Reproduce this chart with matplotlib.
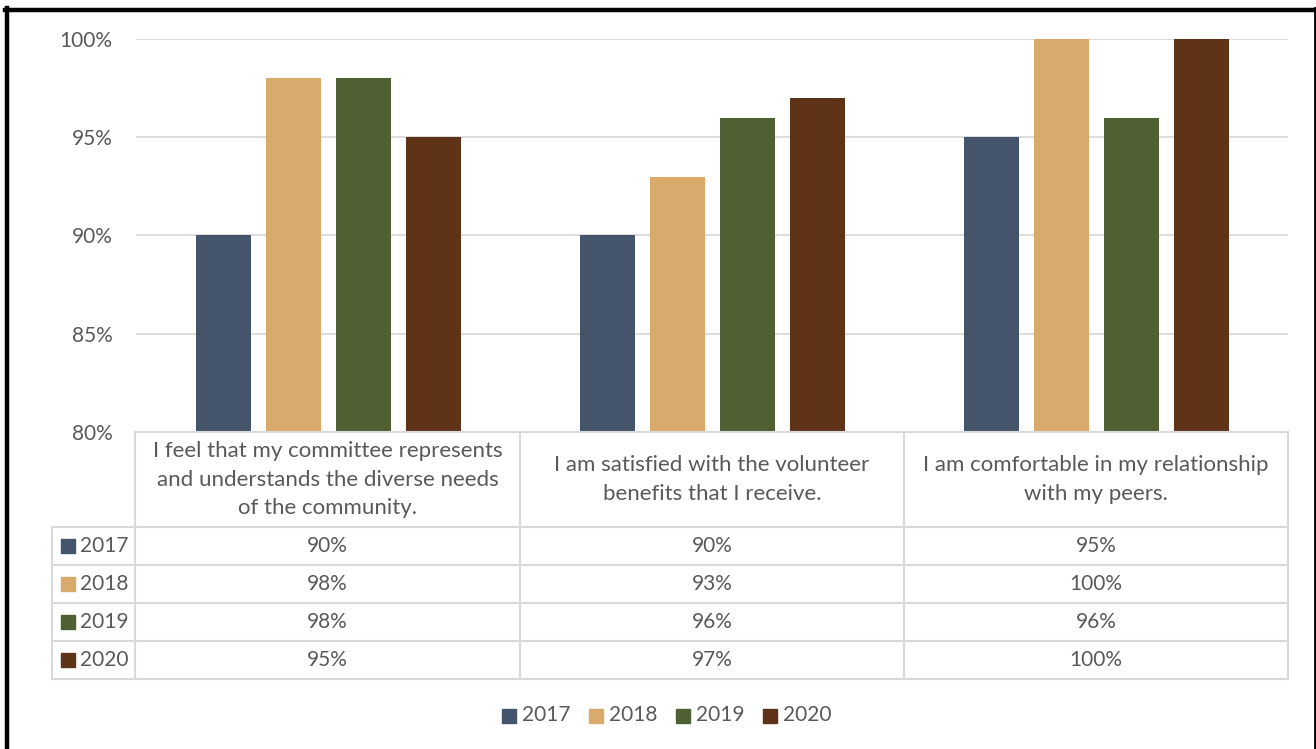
import matplotlib.pyplot as plt
from matplotlib.lines import Line2D
from matplotlib.patches import Rectangle

# survey statements (table header text) and yearly agreement rates
statements = [
    "I feel that my committee represents\nand understands the diverse needs\nof the community.",
    "I am satisfied with the volunteer\nbenefits that I receive.",
    "I am comfortable in my relationship\nwith my peers.",
]
years = ["2017", "2018", "2019", "2020"]
pct_2017 = [90, 90, 95]
pct_2018 = [98, 93, 100]
pct_2019 = [98, 96, 96]
pct_2020 = [95, 97, 100]
series = [pct_2017, pct_2018, pct_2019, pct_2020]
colors = ["#44546A", "#D8AA6C", "#4F6133", "#5E3317"]
yticks = [80, 85, 90, 95, 100]

plt.rcParams['font.family'] = ['Lato', 'DejaVu Sans']
txt = "#595959"
grid_c = "#D9D9D9"
fs = 15        # numbers, years
fs_head = 16   # statement text

W, H = 1316, 749
fig = plt.figure(figsize=(W / 100, H / 100), dpi=100)


def fx(px):
    return px / W


def fy(py):
    return 1 - py / H


# bar chart area
ax = fig.add_axes([fx(136), fy(432), fx(1288) - fx(136), fy(39) - fy(432)])
n = len(years)
bw = 55 / 384
step = 70 / 384
for i, (vals, c) in enumerate(zip(series, colors)):
    xs = [g + (i - (n - 1) / 2) * step for g in range(len(statements))]
    ax.bar(xs, [v - 80 for v in vals], bottom=80, width=bw, color=c, zorder=3)
ax.set_xlim(-0.5, 2.5)
ax.set_ylim(80, 100)
ax.set_yticks(yticks)
ax.set_yticklabels([f"{t}%" for t in yticks])
ax.yaxis.grid(True, color=grid_c, linewidth=1.3, zorder=0)
ax.tick_params(axis='y', length=0, pad=17, labelsize=fs, labelcolor=txt)
ax.set_xticks([])
for s in ax.spines.values():
    s.set_visible(False)

# data table under the bars
row_h = 38
head_top, head_bot = 432, 527
left_px, div_px, right_px = 52, 135, 1288
col_edges = [135, 520, 904, 1288]
line_kw = dict(color=grid_c, linewidth=1.5, transform=fig.transFigure)

# header cells
for x in col_edges:
    fig.add_artist(Line2D([fx(x), fx(x)], [fy(head_top), fy(head_bot + row_h * n)], **line_kw))
fig.add_artist(Line2D([fx(div_px), fx(right_px)], [fy(head_top), fy(head_top)], **line_kw))
for j, s in enumerate(statements):
    cx = (col_edges[j] + col_edges[j + 1]) / 2
    fig.text(fx(cx), fy((head_top + head_bot) / 2), s, ha='center', va='center',
             fontsize=fs_head, color=txt, linespacing=1.55)

# value rows
for r in range(n + 1):
    y = head_bot + r * row_h
    fig.add_artist(Line2D([fx(left_px), fx(right_px)], [fy(y), fy(y)], **line_kw))
fig.add_artist(Line2D([fx(left_px), fx(left_px)], [fy(head_bot), fy(head_bot + row_h * n)], **line_kw))
for i, (yr, vals, c) in enumerate(zip(years, series, colors)):
    yc = head_bot + (i + 0.5) * row_h
    fig.add_artist(Rectangle((fx(61), fy(yc + 7)), fx(14), fy(0) - fy(14),
                             color=c, transform=fig.transFigure))
    fig.text(fx(80), fy(yc), yr, ha='left', va='center', fontsize=fs, color=txt)
    for j, v in enumerate(vals):
        cx = (col_edges[j] + col_edges[j + 1]) / 2
        fig.text(fx(cx), fy(yc), f"{v}%", ha='center', va='center', fontsize=fs, color=txt)

# legend
leg_x = 502
for yr, c in zip(years, colors):
    fig.add_artist(Rectangle((fx(leg_x), fy(723)), fx(14), fy(0) - fy(14),
                             color=c, transform=fig.transFigure))
    fig.text(fx(leg_x + 20), fy(715), yr, ha='left', va='center', fontsize=fs, color=txt)
    leg_x += 87

# black frame around the chart
fig.add_artist(Line2D([fx(7), fx(7)], [fy(8), 0], color='black', linewidth=3.2, transform=fig.transFigure))
fig.add_artist(Line2D([fx(5), fx(1314.5)], [fy(10), fy(10)], color='black', linewidth=3.2, transform=fig.transFigure))
fig.add_artist(Line2D([fx(1314.5), fx(1314.5)], [fy(8), 0], color='black', linewidth=2, transform=fig.transFigure))

fig.savefig("out.png", dpi=100)
